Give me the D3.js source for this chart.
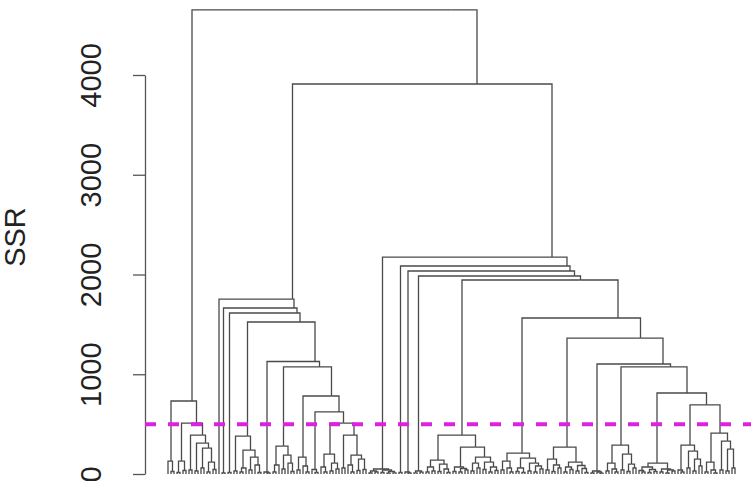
<!DOCTYPE html>
<html>
<head>
<meta charset="utf-8">
<script src="https://cdn.jsdelivr.net/npm/d3@7"></script>
<style>
  body { margin: 0; background: #fff; }
  svg { display: block; font-family: "Liberation Sans", Arial, sans-serif; }
</style>
</head>
<body>
<div id="chart"></div>
<script>
// Dendrogram of SSR (hclust-style), cut line at 500

// low-level clusters: "." is a leaf, "(A B)h" merges A and B at height h
const groupNames = ['a', 'c1', 'c2', 'c3', 'c4', 'c5', 'c6', 'c7', 'c8', 'c9a', 'c9b',
    'd1', 'd2', 'd3', 'd4', 'e1', 'f1', 'g1', 'h1', 'i1', 'j1', 'k1', 'k2'];
const groupShapes = [
    '((.(..)25)130(((..)15(..)35)130((..)40((..)30((..)60((..)20(..)45)120)260)310)390)510)732',
    '.',
    '(..)10',
    '(..)15',
    '((..)30(((..)20.)60((..)40(.(..)15)90)170)240)380',
    '(.(..)10)20',
    '(((..)20.)90((..)50(.(..)25)110)190)280',
    '((..)40(.(..)20)80)170',
    '(.(..)15)45',
    '((.(..)20)70((..)30(..)50)110)200',
    '((..)60((.(..)20)90((..)35(..)45)150)190)390',
    '(((..)10(..)20)30((..)15((..)8(..)12)25)40)50',
    '(..)15',
    '(.(..)10)20',
    '((..)12(..)18)30',
    '((((..)20(..)30)70((..)25(.(..)15)50)100)140(((..)25((..)20(..)40)55)70(((..)30(..)60)110((..)45((..)20(..)35)70)120)170)270)390',
    '(((..)40(.(..)20)60)130(((..)25(..)15)60((..)30((..)20(..)50)80)110)160)210',
    '(((..)40((..)25(..)60)90)150(((..)20(..)45)70((..)30(.(..)15)55)85)120)270',
    '((..)10(.(..)8)20)30',
    '(((..)30(.(..)20)50)110((..)40((..)25(..)60)100)200)290',
    '(((.(..)20)35((..)15(..)25)45)70((..)20((..)10(..)30)40)50)110',
    '((.(..)20)40((..)60((..)30(..)80)150)230)290',
    '(((..)20(.(..)10)40)120((..)40((..)30(..)60)250)330)410'
];

// upper merges (bottom-up), last one is the root
const mergeNames   = ['C9', 'C8', 'C7', 'C6', 'C5', 'C4', 'C3', 'C2', 'C',
    'K', 'J', 'I', 'H', 'G', 'F', 'E', 'D4', 'D3', 'D2', 'D', 'B', 'root'];
const mergeLeft    = ['c9a', 'c8', 'c7', 'c6', 'c5', 'c4', 'c3', 'c2', 'c1',
    'k1', 'j1', 'i1', 'h1', 'g1', 'f1', 'e1', 'd4', 'd3', 'd2', 'd1', 'C', 'a'];
const mergeRight   = ['c9b', 'C9', 'C8', 'C7', 'C6', 'C5', 'C4', 'C3', 'C2',
    'k2', 'K', 'J', 'I', 'H', 'G', 'F', 'E', 'D4', 'D3', 'D2', 'D', 'B'];
const mergeHeights = [511, 622, 782, 1073, 1128, 1524, 1614, 1664, 1754,
    692, 812, 1073, 1103, 1363, 1564, 1945, 1985, 2035, 2085, 2175, 3910, 4652];

const yTicks = [0, 1000, 2000, 3000, 4000];
const cutHeight = 500;
const yLabel = 'SSR';

function parseShape(s) {
    let i = 0;
    function read() {
        if (s[i] === '.') { i++; return { h: 0 }; }
        i++; // (
        const left = read();
        const right = read();
        i++; // )
        let num = '';
        while (i < s.length && s[i] >= '0' && s[i] <= '9') num += s[i++];
        return { h: +num, children: [left, right] };
    }
    return read();
}

function drawDendrogram() {
    const width = 751, height = 481;
    const axisX = 145;

    const nodes = {};
    groupNames.forEach((n, k) => { nodes[n] = parseShape(groupShapes[k]); });
    mergeNames.forEach((n, k) => {
        nodes[n] = { h: mergeHeights[k], children: [nodes[mergeLeft[k]], nodes[mergeRight[k]]] };
    });

    const root = d3.hierarchy(nodes[mergeNames[mergeNames.length - 1]]);
    const leaves = root.leaves();
    leaves.forEach((l, i) => { l.idx = i; });

    const x = d3.scaleLinear()
        .domain([0, leaves.length - 1])
        .range([168, 735]);

    const y = d3.scaleLinear()
        .domain([0, 4000])
        .range([474, 75]);

    // node sits over the centre of its leaves
    root.each(n => { n.px = d3.mean(n.leaves(), l => x(l.idx)); });

    const svg = d3.select('#chart').append('svg')
        .attr('width', width)
        .attr('height', height);

    // Branches
    svg.append('g')
        .attr('fill', 'none')
        .attr('stroke', '#4a4a4a')
        .attr('stroke-width', 1.3)
        .selectAll('path')
        .data(root.links())
        .enter()
        .append('path')
        .attr('d', d => `M${d.target.px},${y(d.target.data.h)}V${y(d.source.data.h)}H${d.source.px}`);

    // Y axis
    const axis = svg.append('g')
        .attr('transform', `translate(${axisX},0)`)
        .call(d3.axisLeft(y)
            .tickValues(yTicks)
            .tickSize(12)
            .tickSizeOuter(0)
            .tickFormat(d3.format('d')));

    axis.select('.domain').attr('stroke', '#555').attr('stroke-width', 1.3);
    axis.selectAll('.tick line').attr('stroke', '#555').attr('stroke-width', 1.3);
    axis.selectAll('.tick text')
        .attr('transform', 'rotate(-90)')
        .attr('x', 0)
        .attr('y', -44)
        .attr('dy', 0)
        .attr('text-anchor', 'middle')
        .attr('fill', '#222')
        .attr('font-size', '29px');

    svg.append('text')
        .attr('transform', `translate(25,237) rotate(-90)`)
        .attr('text-anchor', 'middle')
        .attr('fill', '#222')
        .attr('font-size', '29px')
        .text(yLabel);

    // Cut line
    svg.append('line')
        .attr('x1', axisX)
        .attr('x2', width)
        .attr('y1', y(cutHeight))
        .attr('y2', y(cutHeight))
        .attr('stroke', '#dd22dd')
        .attr('stroke-width', 4)
        .attr('stroke-dasharray', '11,12');
}

drawDendrogram();
</script>
</body>
</html>
